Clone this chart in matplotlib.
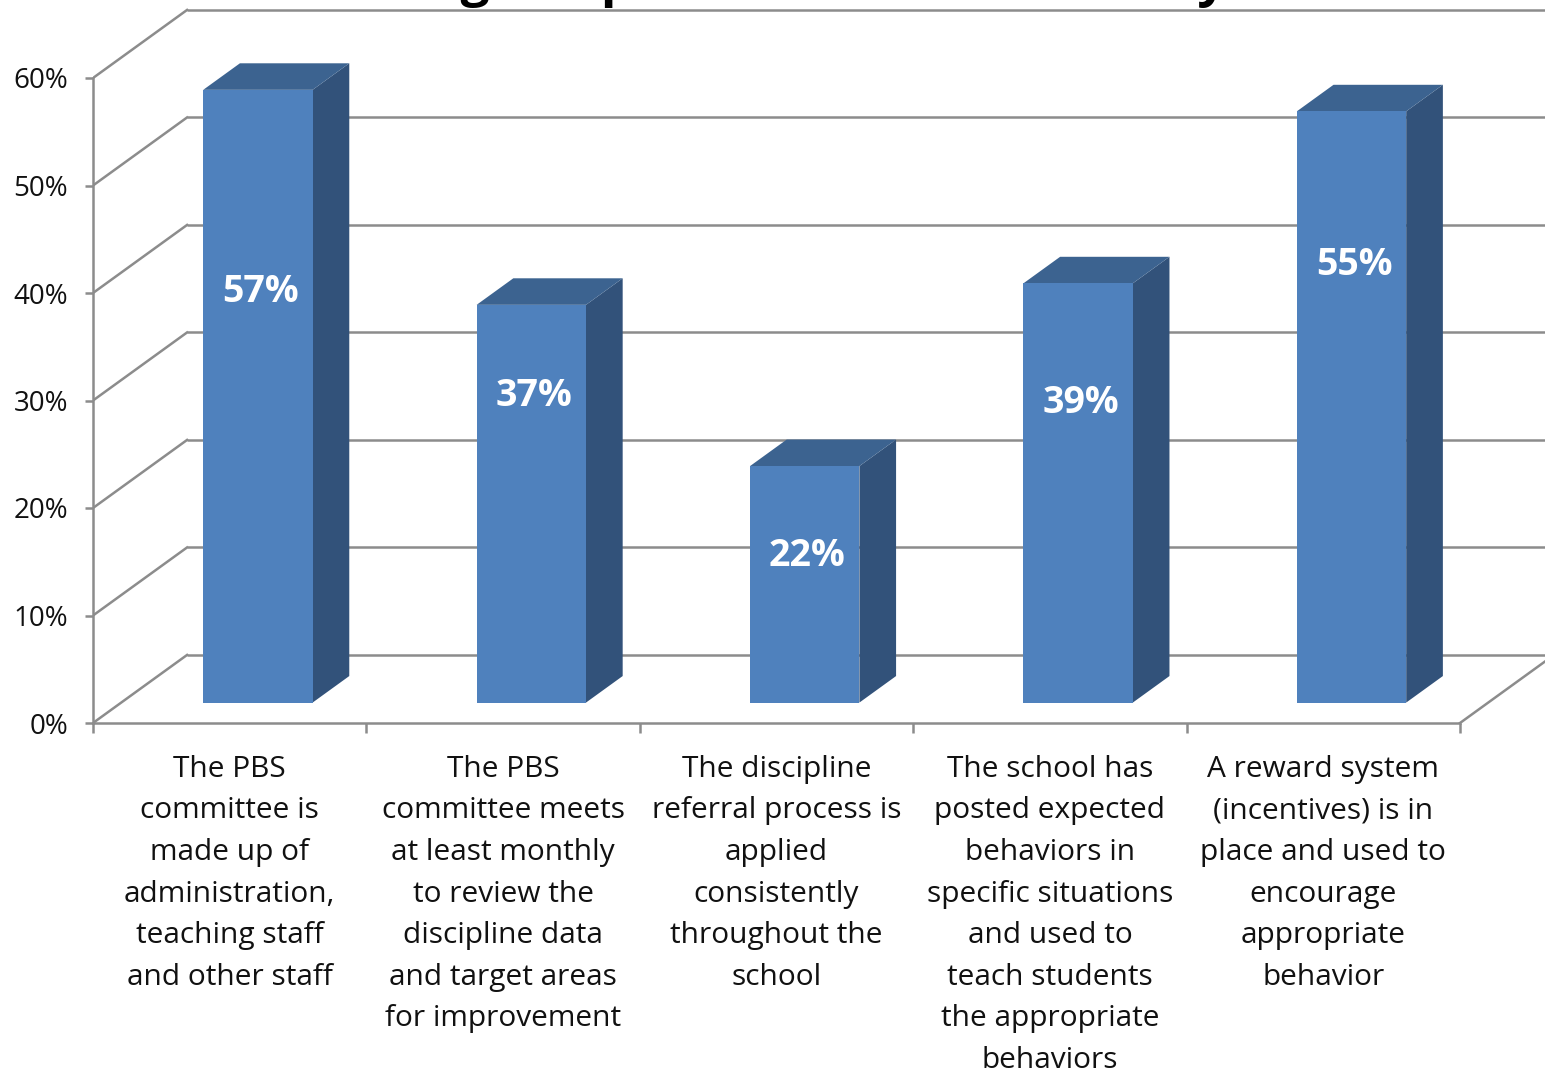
import matplotlib
matplotlib.use("Agg")
import matplotlib.pyplot as plt
from matplotlib.patches import Polygon

# Survey items and the share answering "in place"
categories = [
    "The PBS\ncommittee is\nmade up of\nadministration,\nteaching staff\nand other staff",
    "The PBS\ncommittee meets\nat least monthly\nto review the\ndiscipline data\nand target areas\nfor improvement",
    "The discipline\nreferral process is\napplied\nconsistently\nthroughout the\nschool",
    "The school has\nposted expected\nbehaviors in\nspecific situations\nand used to\nteach students\nthe appropriate\nbehaviors",
    "A reward system\n(incentives) is in\nplace and used to\nencourage\nappropriate\nbehavior",
]
values = [57, 37, 22, 39, 55]
y_ticks = [0, 10, 20, 30, 40, 50, 60]
y_tick_labels = ["0%", "10%", "20%", "30%", "40%", "50%", "60%"]

TITLE = "Percentage Implemented in Place Fully"

# fake 3D: depth 1 shifts a point right / up by these amounts
DEPTH_X = 0.344
DEPTH_Y = 6.33
BAR_W = 0.40
BAR_D0, BAR_D1 = 0.30, 0.69
# where the value label sits, as a fraction of the bar height
label_frac = [0.67, 0.77, 0.62, 0.715, 0.74]

FRONT = "#4f81bd"
SIDE = "#32527a"
TOP = "#3c6390"
GRID = "#8c8c8c"
TEXT = "#111111"
FONT = "Open Sans"


def proj(x, y, d):
    return (x + d * DEPTH_X, y + d * DEPTH_Y)


fig = plt.figure(figsize=(15.45, 10.71), dpi=100)
ax = fig.add_axes([93 / 1545, 348 / 1071, 1452 / 1545, 723 / 1071])
ax.set_xlim(0, 1452 / 273.4)
ax.set_ylim(0, 723 / 10.75)

n = len(values)
xmax = ax.get_xlim()[1]

# back wall grid and left wall diagonals
for v in y_ticks:
    bx, by = proj(0, v, 1)
    ax.plot([bx, xmax], [by, by], color=GRID, lw=1.8, zorder=1, solid_capstyle="butt")
    ax.plot([0, bx], [v, by], color=GRID, lw=1.8, zorder=1)
# floor right edge
fx, fy = proj(n, 0, 1)
ax.plot([n, fx], [0, fy], color=GRID, lw=1.8, zorder=1)

# bars
for i, v in enumerate(values):
    c = i + 0.5
    x0, x1 = c - BAR_W / 2, c + BAR_W / 2
    front = [proj(x0, 0, BAR_D0), proj(x1, 0, BAR_D0), proj(x1, v, BAR_D0), proj(x0, v, BAR_D0)]
    side = [proj(x1, 0, BAR_D0), proj(x1, 0, BAR_D1), proj(x1, v, BAR_D1), proj(x1, v, BAR_D0)]
    top = [proj(x0, v, BAR_D0), proj(x1, v, BAR_D0), proj(x1, v, BAR_D1), proj(x0, v, BAR_D1)]
    ax.add_patch(Polygon(side, closed=True, facecolor=SIDE, edgecolor="none", zorder=3))
    ax.add_patch(Polygon(top, closed=True, facecolor=TOP, edgecolor="none", zorder=3))
    ax.add_patch(Polygon(front, closed=True, facecolor=FRONT, edgecolor="none", zorder=4))
    lx, ly = proj(c, v * label_frac[i], BAR_D0)
    ax.text(lx + 0.01, ly, f"{v}%", color="white", fontsize=27, fontweight="bold",
            family=FONT, ha="center", va="center", zorder=5)

# axes frame
for side_name in ["top", "right"]:
    ax.spines[side_name].set_visible(False)
ax.spines["left"].set_bounds(0, 60)
ax.spines["bottom"].set_bounds(0, n)
for side_name in ["left", "bottom"]:
    ax.spines[side_name].set_color(GRID)
    ax.spines[side_name].set_linewidth(1.8)
    ax.spines[side_name].set_zorder(2)

ax.set_yticks(y_ticks)
ax.set_yticklabels(y_tick_labels, family=FONT, fontsize=20, color=TEXT)
ax.tick_params(axis="y", length=6, width=1.8, color=GRID, pad=12)

ax.set_xticks(range(n + 1))
ax.set_xticklabels([""] * (n + 1))
ax.tick_params(axis="x", which="major", length=7, width=1.8, color=GRID)
ax.set_xticks([i + 0.5 for i in range(n)], minor=True)
ax.set_xticklabels(categories, minor=True, family=FONT, fontsize=21.5,
                   color=TEXT, linespacing=1.57)
ax.tick_params(axis="x", which="minor", length=0, pad=23)

fig.text(0.472, 1.0 + 4 / 1071, TITLE, ha="center", va="baseline",
         fontsize=37, fontweight="bold", family=FONT)

fig.savefig("out.png", dpi=100)
